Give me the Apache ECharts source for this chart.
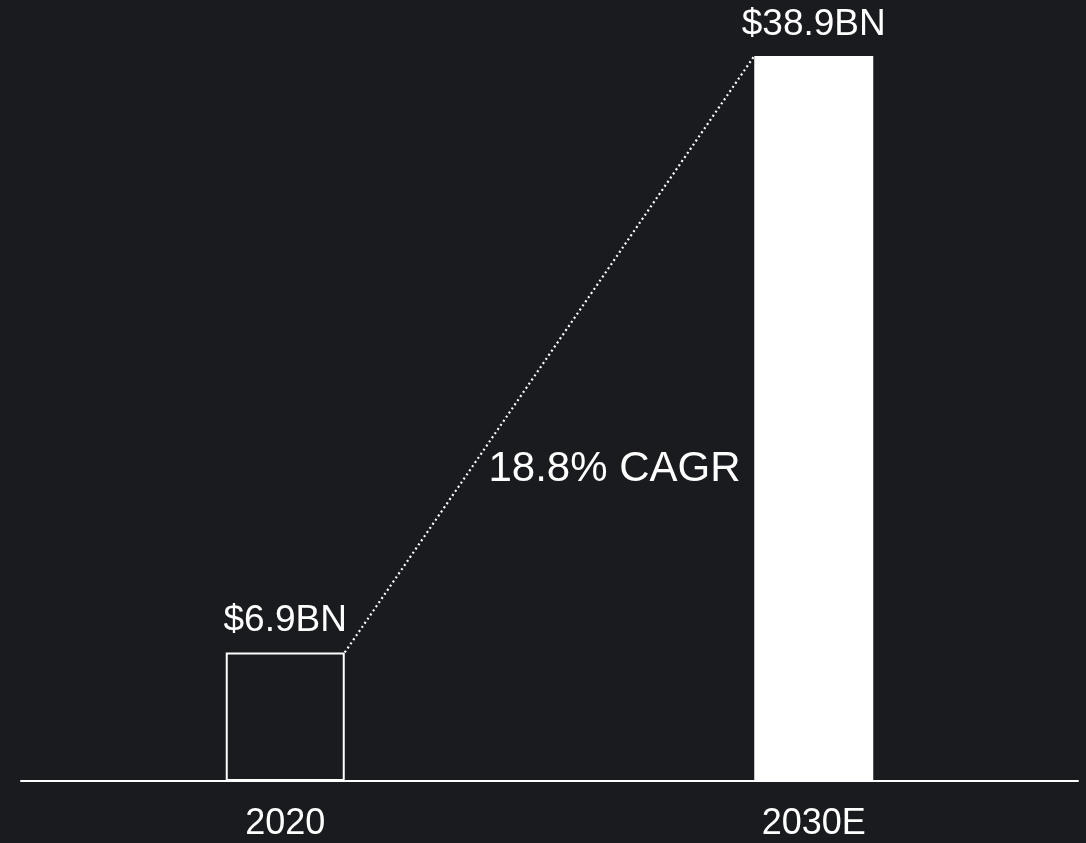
<!DOCTYPE html>
<html>
<head>
<meta charset="utf-8">
<style>
  html, body { margin: 0; padding: 0; background: #1a1b1f; }
  #main { width: 1086px; height: 843px; }
</style>
<script src="https://cdn.jsdelivr.net/npm/echarts@6/dist/echarts.min.js"></script>
</head>
<body>
<div id="main"></div>
<script>
// data
var years = ['2020', '2030E'];
var marketSize = [6.9, 38.9];
var valueLabels = ['$6.9BN', '$38.9BN'];
var cagrText = '18.8% CAGR';

var FONT = '"Liberation Sans", Arial, sans-serif';
var BAR_W = 119;

var chart = echarts.init(document.getElementById('main'), null, { renderer: 'canvas' });

var option = {
  backgroundColor: '#1a1b1f',
  animation: false,
  grid: { left: 21, right: 8, top: 56, bottom: 62 },
  xAxis: {
    type: 'category',
    data: years,
    axisLine: { show: true, lineStyle: { color: '#ffffff', width: 2 } },
    axisTick: { show: false },
    axisLabel: { color: '#ffffff', fontSize: 36, fontFamily: FONT, margin: 25 }
  },
  yAxis: {
    type: 'value',
    min: 0,
    max: 38.9,
    show: false,
    splitLine: { show: false }
  },
  series: [
    {
      type: 'bar',
      barWidth: BAR_W,
      data: marketSize.map(function (v, i) {
        if (i === 0) {
          return {
            value: v,
            itemStyle: { color: 'transparent', borderColor: '#ffffff', borderWidth: 2 }
          };
        }
        return { value: v, itemStyle: { color: '#ffffff' } };
      }),
      label: {
        show: true,
        position: 'top',
        distance: 13,
        color: '#ffffff',
        fontSize: 37,
        fontFamily: FONT,
        formatter: function (p) { return valueLabels[p.dataIndex]; }
      }
    },
    {
      // dotted CAGR connector, from top-right of first bar to top-left of last bar
      type: 'custom',
      silent: true,
      data: [0],
      renderItem: function (params, api) {
        var a = api.coord([0, marketSize[0]]);
        var b = api.coord([1, marketSize[1]]);
        var x1 = a[0] + BAR_W / 2, y1 = a[1];
        var x2 = b[0] - BAR_W / 2, y2 = b[1];
        var t = 0.307;
        var tx = x1 + (x2 - x1) * t, ty = y1 + (y2 - y1) * t;
        return {
          type: 'group',
          children: [
            {
              type: 'line',
              shape: { x1: x1, y1: y1, x2: x2, y2: y2 },
              style: { stroke: '#ffffff', lineWidth: 2.2, lineDash: [2, 3] }
            },
            {
              type: 'text',
              style: {
                x: tx + 18,
                y: ty,
                text: cagrText,
                fill: '#ffffff',
                font: '42px ' + FONT,
                textAlign: 'left',
                textVerticalAlign: 'middle'
              }
            }
          ]
        };
      }
    }
  ]
};

chart.setOption(option);
</script>
</body>
</html>
